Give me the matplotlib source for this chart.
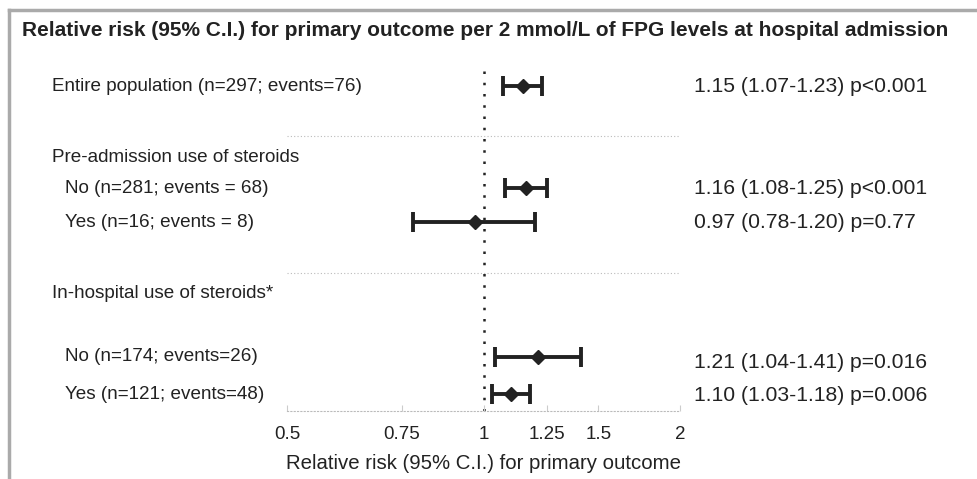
import matplotlib.pyplot as plt
import matplotlib.transforms as mtransforms
from matplotlib.lines import Line2D

plt.rcParams['font.family'] = ['Liberation Sans', 'DejaVu Sans']

# data
title = "Relative risk (95% C.I.) for primary outcome per 2 mmol/L of FPG levels at hospital admission"
row_labels = ["Entire population (n=297; events=76)",
              "No (n=281; events = 68)",
              "Yes (n=16; events = 8)",
              "No (n=174; events=26)",
              "Yes (n=121; events=48)"]
rr = [1.15, 1.16, 0.97, 1.21, 1.10]
ci_low = [1.07, 1.08, 0.78, 1.04, 1.03]
ci_high = [1.23, 1.25, 1.20, 1.41, 1.18]
p_text = ["p<0.001", "p<0.001", "p=0.77", "p=0.016", "p=0.006"]
headers = ["Pre-admission use of steroids", "In-hospital use of steroids*"]
xticks = [0.5, 0.75, 1, 1.25, 1.5, 2]
xtick_labels = ["0.5", "0.75", "1", "1.25", "1.5", "2"]
xlabel = "Relative risk (95% C.I.) for primary outcome"

# layout (row positions, top to bottom)
row_y = [0, 3, 4, 7.97, 9.06]
indent = [0, 1, 1, 1, 1]
header_y = [2.09, 6.09]
sep_y = [1.47, 5.5]
right_y = [0, 3, 4, 8.12, 9.09]

fig = plt.figure(figsize=(9.78, 4.79), dpi=100)
ax = fig.add_axes([287 / 978, 68 / 479, 393 / 978, 348 / 479])
ax.set_xscale('log', base=2)
ax.set_xlim(0.5, 2)
ax.set_ylim(9.56, -0.68)

dark = '#222222'
for i in range(len(rr)):
    ax.errorbar(rr[i], row_y[i], xerr=[[rr[i] - ci_low[i]], [ci_high[i] - rr[i]]],
                fmt='D', color=dark, ms=7.5, elinewidth=2.8, capsize=7, capthick=2.8)

ax.axvline(1, color=dark, ls=(0, (1, 3.5)), lw=1.8, zorder=0)
for s in sep_y:
    ax.axhline(s, color='#bbbbbb', ls=(0, (1, 2)), lw=0.8, zorder=0)

for sp in ['top', 'right', 'left']:
    ax.spines[sp].set_visible(False)
ax.spines['bottom'].set_linestyle((0, (1, 2)))
ax.spines['bottom'].set_color('#bbbbbb')
ax.spines['bottom'].set_linewidth(0.8)

ax.set_xticks(xticks)
ax.set_xticklabels(xtick_labels)
ax.set_xticks([], minor=True)
ax.tick_params(axis='x', direction='in', length=4, color='#cccccc', labelsize=13.5,
               labelcolor=dark, pad=11)
ax.set_yticks([])
ax.set_xlabel(xlabel, fontsize=14.7, color=dark, labelpad=8)

# left and right texts
tr = mtransforms.blended_transform_factory(fig.transFigure, ax.transData)
for i, lab in enumerate(row_labels):
    x = 52 if indent[i] == 0 else 65
    ax.text(x / 978, row_y[i], lab, transform=tr, fontsize=13.6, color=dark, va='center', ha='left')
    txt = f"{rr[i]:.2f} ({ci_low[i]:.2f}-{ci_high[i]:.2f}) {p_text[i]}"
    ax.text(694 / 978, right_y[i], txt, transform=tr, fontsize=15.2, color=dark, va='center', ha='left')
for h, hy in zip(headers, header_y):
    ax.text(52 / 978, hy, h, transform=tr, fontsize=13.6, color=dark, va='center', ha='left')

fig.text(22 / 978, 1 - 31 / 479, title, fontsize=15, fontweight='bold', color=dark, va='center', ha='left')

# frame
fig.add_artist(Line2D([9 / 978, 1], [1 - 10 / 479, 1 - 10 / 479], transform=fig.transFigure, color='#aaaaaa', lw=2.5))
fig.add_artist(Line2D([9 / 978, 9 / 978], [0, 1 - 10 / 479], transform=fig.transFigure, color='#aaaaaa', lw=2.5))

fig.savefig('out.png', dpi=100)
